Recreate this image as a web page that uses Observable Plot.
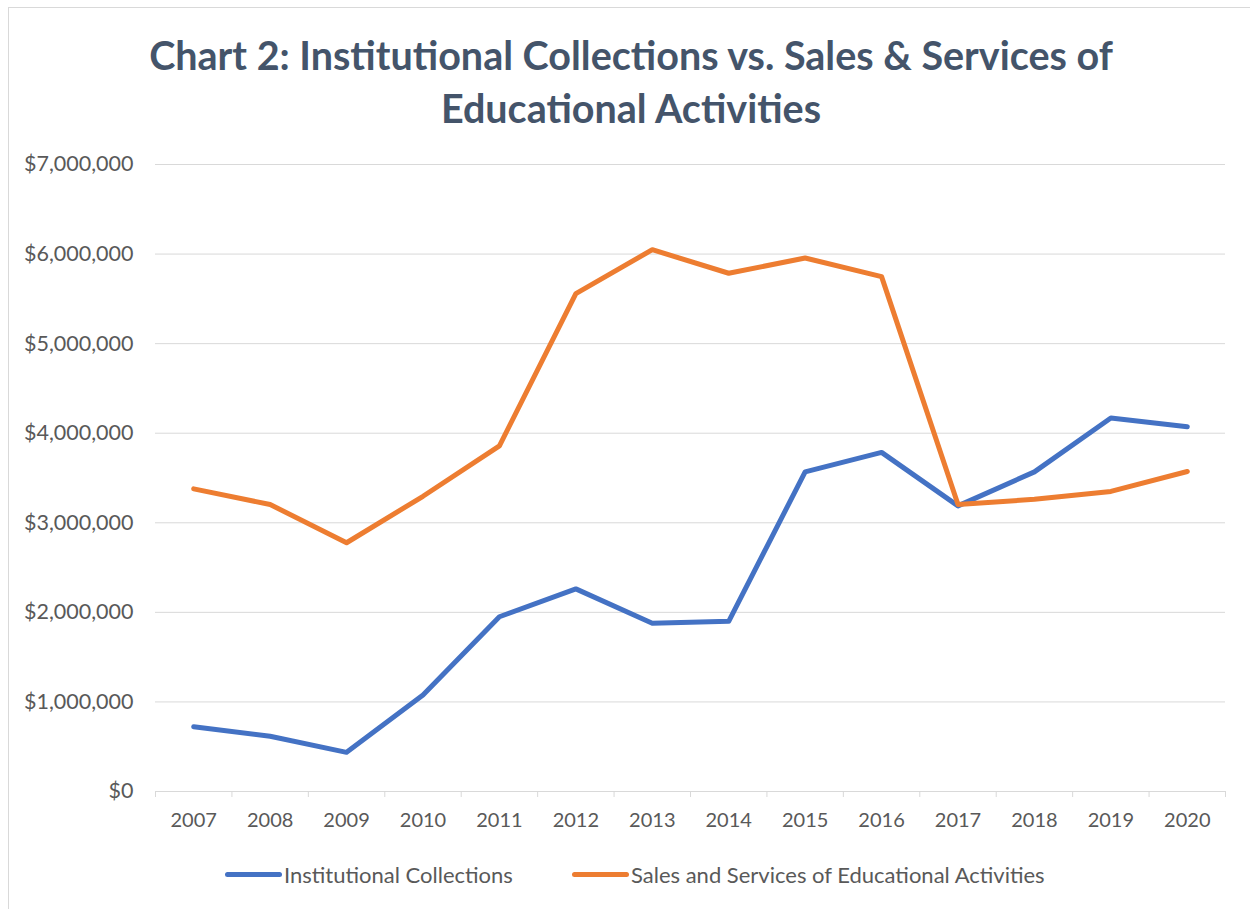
<!DOCTYPE html>
<html>
<head>
<meta charset="utf-8">
<script src="https://cdn.jsdelivr.net/npm/d3@7"></script>
<script src="https://cdn.jsdelivr.net/npm/@observablehq/plot@0.6"></script>
<style>
  html, body { margin: 0; padding: 0; background: #fff; }
  #frame { position: relative; width: 1250px; height: 909px; overflow: hidden; font-family: Lato, "Open Sans", sans-serif; }
  #border { position: absolute; left: 8px; top: 7px; right: -2px; bottom: -2px; border: 1px solid #d9d9d9; }
  #title { position: absolute; left: 0; width: 1262px; top: 28px; text-align: center; color: #44546a; font-weight: bold; font-size: 39.5px; line-height: 53px; }
  #chart { position: absolute; left: 0; top: 140px; }
  #legend { position: absolute; top: 861px; left: 0; width: 1250px; height: 26px; color: #595959; font-size: 22px; }
  .item { position: absolute; top: 0; display: flex; align-items: center; height: 26px; }
  .sw { width: 57px; height: 5px; border-radius: 3px; margin-right: 2px; }
  #chart svg g[aria-label="y-axis tick label"] text { font-size: 21.5px; }
</style>
</head>
<body>
<div id="frame">
  <div id="border"></div>
  <div id="title">Chart 2: Institutional Collections vs. Sales &amp; Services of<br>Educational Activities</div>
  <div id="chart"></div>
  <div id="legend"></div>
</div>
<script>
const years = [2007, 2008, 2009, 2010, 2011, 2012, 2013, 2014, 2015, 2016, 2017, 2018, 2019, 2020];
const institutional = [723000, 617000, 437000, 1078000, 1951000, 2262000, 1879000, 1900000, 3568000, 3786000, 3189000, 3568000, 4170000, 4073000];
const sales = [3379000, 3204000, 2777000, 3296000, 3859000, 5558000, 6049000, 5786000, 5956000, 5748000, 3204000, 3262000, 3350000, 3573000];
const yTicks = [0, 1000000, 2000000, 3000000, 4000000, 5000000, 6000000, 7000000];
const seriesNames = ["Institutional Collections", "Sales and Services of Educational Activities"];
const seriesColors = ["#4472c4", "#ed7d31"];

const rows = [
  ...years.map((y, i) => ({year: y, value: institutional[i], series: seriesNames[0]})),
  ...years.map((y, i) => ({year: y, value: sales[i], series: seriesNames[1]}))
];
const boundaries = [years[0] - 0.5, ...years.map(y => y + 0.5)];

const chart = Plot.plot({
  width: 1250,
  height: 701,
  marginLeft: 155,
  marginRight: 25,
  marginTop: 24,
  marginBottom: 50,
  style: {fontFamily: "Lato, 'Open Sans', sans-serif", fontSize: "20px", color: "#595959", background: "transparent"},
  x: {domain: [years[0] - 0.5, years[years.length - 1] + 0.5], ticks: years, tickFormat: d => String(d), tickSize: 0, tickPadding: 21, label: null},
  y: {domain: [0, 7000000], ticks: yTicks, tickFormat: d3.format("$,"), tickSize: 0, tickPadding: 22, label: null},
  color: {domain: seriesNames, range: seriesColors},
  marks: [
    Plot.ruleY(yTicks, {stroke: "#d9d9d9", strokeWidth: 1}),
    Plot.ruleX(boundaries, {y1: 0, y2: 0, insetTop: 0, insetBottom: -6, stroke: "#d9d9d9", strokeWidth: 1}),
    Plot.line(rows, {x: "year", y: "value", z: "series", stroke: "series", strokeWidth: 5, strokeLinecap: "round", strokeLinejoin: "round"})
  ]
});
document.getElementById("chart").appendChild(chart);

const legend = document.getElementById("legend");
const lefts = [225, 572];
seriesNames.forEach((name, i) => {
  const item = document.createElement("div");
  item.className = "item";
  item.style.left = lefts[i] + "px";
  const sw = document.createElement("div");
  sw.className = "sw";
  sw.style.background = seriesColors[i];
  const label = document.createElement("span");
  label.textContent = name;
  item.appendChild(sw);
  item.appendChild(label);
  legend.appendChild(item);
});
</script>
</body>
</html>
